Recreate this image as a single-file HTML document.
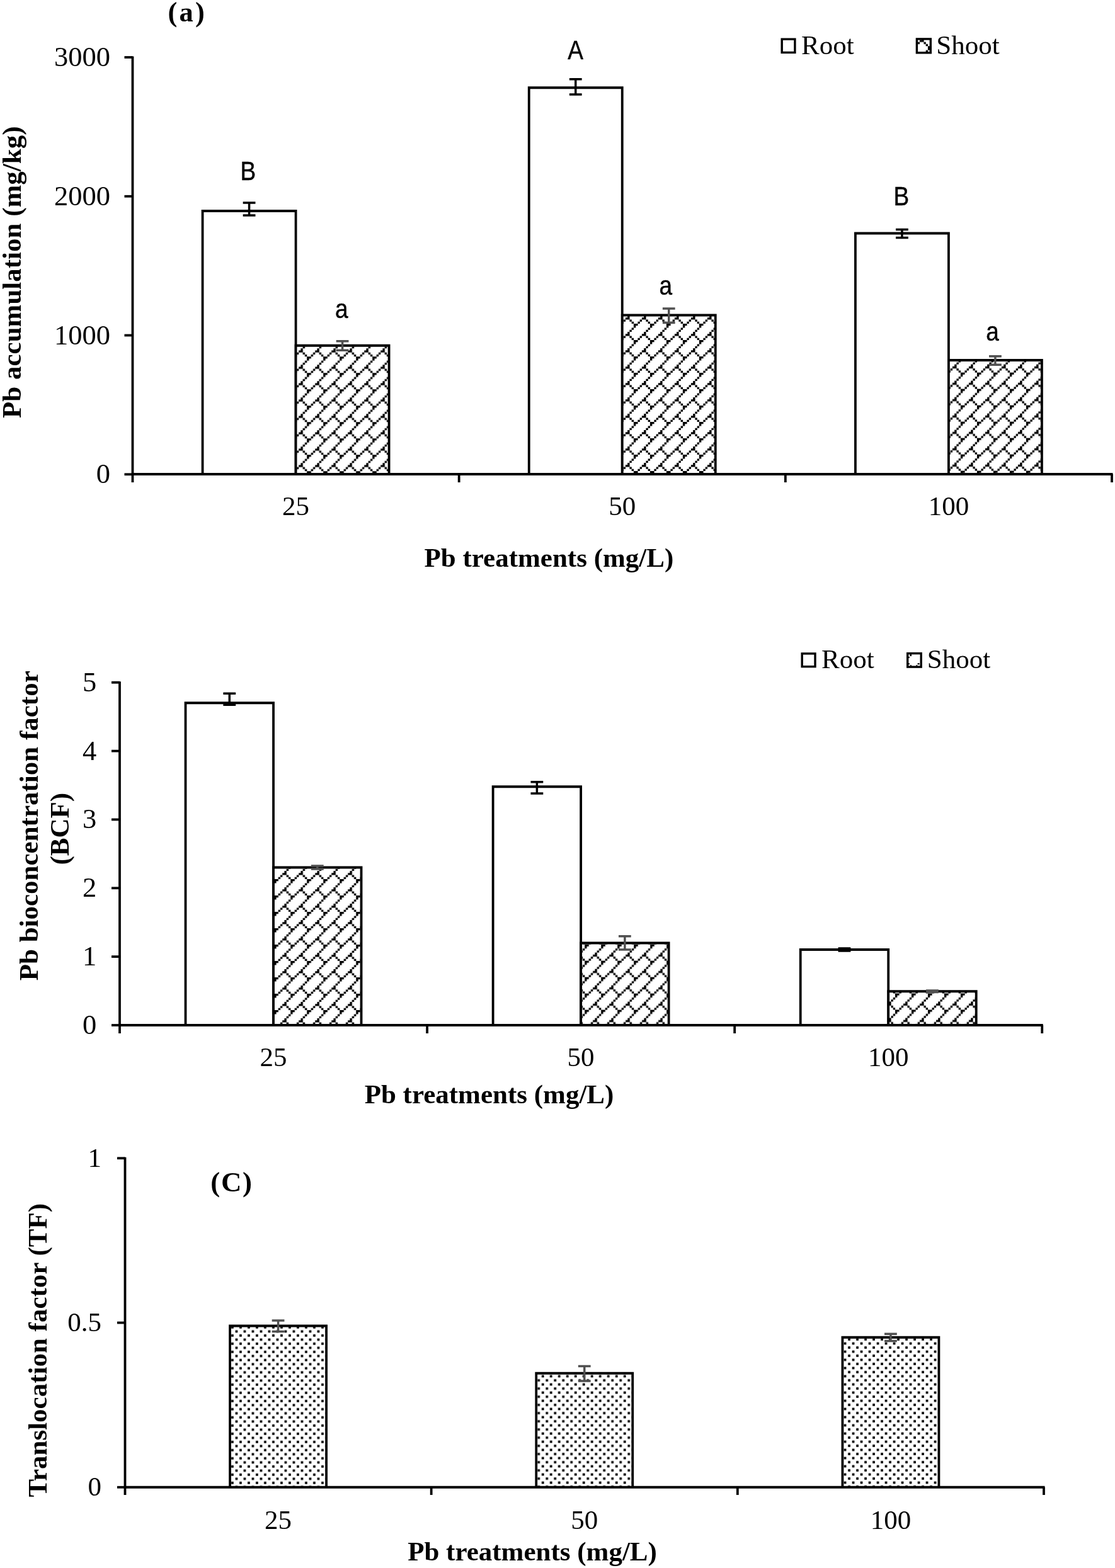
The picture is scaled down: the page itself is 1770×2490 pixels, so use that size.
<!DOCTYPE html>
<html><head><meta charset="utf-8"><title>Pb accumulation, BCF and TF</title>
<style>html,body{margin:0;padding:0;background:#fff;width:1770px;height:2490px;overflow:hidden}svg{display:block}</style>
</head><body>
<svg width="1770" height="2490" viewBox="0 0 1770 2490">
<defs><pattern id="p1" patternUnits="userSpaceOnUse" x="474.25" y="579.24" width="26.000" height="26.000"><rect width="26.000" height="26.000" fill="#fff"/><path d="M3.17,-0.08h3.41v3.41h-3.41zM3.17,25.92h3.41v3.41h-3.41zM-0.08,3.17h3.41v3.41h-3.41zM25.92,3.17h3.41v3.41h-3.41zM3.17,3.17h3.41v3.41h-3.41zM6.42,6.42h3.41v3.41h-3.41zM-3.33,6.42h3.41v3.41h-3.41zM22.67,6.42h3.41v3.41h-3.41zM9.67,9.67h3.41v3.41h-3.41zM19.42,9.67h3.41v3.41h-3.41zM12.92,12.92h3.41v3.41h-3.41zM16.17,12.92h3.41v3.41h-3.41zM12.92,16.17h3.41v3.41h-3.41zM9.67,19.42h3.41v3.41h-3.41zM6.42,-3.33h3.41v3.41h-3.41zM6.42,22.67h3.41v3.41h-3.41z"/></pattern><pattern id="p2" patternUnits="userSpaceOnUse" x="992.96" y="527.00" width="26.000" height="26.000"><rect width="26.000" height="26.000" fill="#fff"/><path d="M3.17,-0.08h3.41v3.41h-3.41zM3.17,25.92h3.41v3.41h-3.41zM-0.08,3.17h3.41v3.41h-3.41zM25.92,3.17h3.41v3.41h-3.41zM3.17,3.17h3.41v3.41h-3.41zM6.42,6.42h3.41v3.41h-3.41zM-3.33,6.42h3.41v3.41h-3.41zM22.67,6.42h3.41v3.41h-3.41zM9.67,9.67h3.41v3.41h-3.41zM19.42,9.67h3.41v3.41h-3.41zM12.92,12.92h3.41v3.41h-3.41zM16.17,12.92h3.41v3.41h-3.41zM12.92,16.17h3.41v3.41h-3.41zM9.67,19.42h3.41v3.41h-3.41zM6.42,-3.33h3.41v3.41h-3.41zM6.42,22.67h3.41v3.41h-3.41z"/></pattern><pattern id="p3" patternUnits="userSpaceOnUse" x="1512.00" y="682.60" width="26.000" height="26.000"><rect width="26.000" height="26.000" fill="#fff"/><path d="M3.17,-0.08h3.41v3.41h-3.41zM3.17,25.92h3.41v3.41h-3.41zM-0.08,3.17h3.41v3.41h-3.41zM25.92,3.17h3.41v3.41h-3.41zM3.17,3.17h3.41v3.41h-3.41zM6.42,6.42h3.41v3.41h-3.41zM-3.33,6.42h3.41v3.41h-3.41zM22.67,6.42h3.41v3.41h-3.41zM9.67,9.67h3.41v3.41h-3.41zM19.42,9.67h3.41v3.41h-3.41zM12.92,12.92h3.41v3.41h-3.41zM16.17,12.92h3.41v3.41h-3.41zM12.92,16.17h3.41v3.41h-3.41zM9.67,19.42h3.41v3.41h-3.41zM6.42,-3.33h3.41v3.41h-3.41zM6.42,22.67h3.41v3.41h-3.41z"/></pattern><pattern id="p4" patternUnits="userSpaceOnUse" x="1460.00" y="60.25" width="26.000" height="26.000"><rect width="26.000" height="26.000" fill="#fff"/><path d="M3.17,-0.08h3.41v3.41h-3.41zM3.17,25.92h3.41v3.41h-3.41zM-0.08,3.17h3.41v3.41h-3.41zM25.92,3.17h3.41v3.41h-3.41zM3.17,3.17h3.41v3.41h-3.41zM6.42,6.42h3.41v3.41h-3.41zM-3.33,6.42h3.41v3.41h-3.41zM22.67,6.42h3.41v3.41h-3.41zM9.67,9.67h3.41v3.41h-3.41zM19.42,9.67h3.41v3.41h-3.41zM12.92,12.92h3.41v3.41h-3.41zM16.17,12.92h3.41v3.41h-3.41zM12.92,16.17h3.41v3.41h-3.41zM9.67,19.42h3.41v3.41h-3.41zM6.42,-3.33h3.41v3.41h-3.41zM6.42,22.67h3.41v3.41h-3.41z"/></pattern><pattern id="p5" patternUnits="userSpaceOnUse" x="448.30" y="1409.05" width="26.000" height="26.000"><rect width="26.000" height="26.000" fill="#fff"/><path d="M3.17,-0.08h3.41v3.41h-3.41zM3.17,25.92h3.41v3.41h-3.41zM-0.08,3.17h3.41v3.41h-3.41zM25.92,3.17h3.41v3.41h-3.41zM3.17,3.17h3.41v3.41h-3.41zM6.42,6.42h3.41v3.41h-3.41zM-3.33,6.42h3.41v3.41h-3.41zM22.67,6.42h3.41v3.41h-3.41zM9.67,9.67h3.41v3.41h-3.41zM19.42,9.67h3.41v3.41h-3.41zM12.92,12.92h3.41v3.41h-3.41zM16.17,12.92h3.41v3.41h-3.41zM12.92,16.17h3.41v3.41h-3.41zM9.67,19.42h3.41v3.41h-3.41zM6.42,-3.33h3.41v3.41h-3.41zM6.42,22.67h3.41v3.41h-3.41z"/></pattern><pattern id="p6" patternUnits="userSpaceOnUse" x="941.24" y="1538.66" width="26.000" height="26.000"><rect width="26.000" height="26.000" fill="#fff"/><path d="M3.17,-0.08h3.41v3.41h-3.41zM3.17,25.92h3.41v3.41h-3.41zM-0.08,3.17h3.41v3.41h-3.41zM25.92,3.17h3.41v3.41h-3.41zM3.17,3.17h3.41v3.41h-3.41zM6.42,6.42h3.41v3.41h-3.41zM-3.33,6.42h3.41v3.41h-3.41zM22.67,6.42h3.41v3.41h-3.41zM9.67,9.67h3.41v3.41h-3.41zM19.42,9.67h3.41v3.41h-3.41zM12.92,12.92h3.41v3.41h-3.41zM16.17,12.92h3.41v3.41h-3.41zM12.92,16.17h3.41v3.41h-3.41zM9.67,19.42h3.41v3.41h-3.41zM6.42,-3.33h3.41v3.41h-3.41zM6.42,22.67h3.41v3.41h-3.41z"/></pattern><pattern id="p7" patternUnits="userSpaceOnUse" x="1434.04" y="1590.50" width="26.000" height="26.000"><rect width="26.000" height="26.000" fill="#fff"/><path d="M3.17,-0.08h3.41v3.41h-3.41zM3.17,25.92h3.41v3.41h-3.41zM-0.08,3.17h3.41v3.41h-3.41zM25.92,3.17h3.41v3.41h-3.41zM3.17,3.17h3.41v3.41h-3.41zM6.42,6.42h3.41v3.41h-3.41zM-3.33,6.42h3.41v3.41h-3.41zM22.67,6.42h3.41v3.41h-3.41zM9.67,9.67h3.41v3.41h-3.41zM19.42,9.67h3.41v3.41h-3.41zM12.92,12.92h3.41v3.41h-3.41zM16.17,12.92h3.41v3.41h-3.41zM12.92,16.17h3.41v3.41h-3.41zM9.67,19.42h3.41v3.41h-3.41zM6.42,-3.33h3.41v3.41h-3.41zM6.42,22.67h3.41v3.41h-3.41z"/></pattern><pattern id="p8" patternUnits="userSpaceOnUse" x="373.80" y="2112.70" width="26.000" height="26.000"><rect width="26.000" height="26.000" fill="#fff"/><path d="M-0.25,-0.25h3.75v3.75h-3.75zM-0.25,25.75h3.75v3.75h-3.75zM25.75,-0.25h3.75v3.75h-3.75zM25.75,25.75h3.75v3.75h-3.75zM12.75,-0.25h3.75v3.75h-3.75zM12.75,25.75h3.75v3.75h-3.75zM6.25,6.25h3.75v3.75h-3.75zM19.25,6.25h3.75v3.75h-3.75zM-0.25,12.75h3.75v3.75h-3.75zM25.75,12.75h3.75v3.75h-3.75zM12.75,12.75h3.75v3.75h-3.75zM6.25,19.25h3.75v3.75h-3.75zM19.25,19.25h3.75v3.75h-3.75z"/></pattern><pattern id="p9" patternUnits="userSpaceOnUse" x="866.60" y="2190.40" width="26.000" height="26.000"><rect width="26.000" height="26.000" fill="#fff"/><path d="M-0.25,-0.25h3.75v3.75h-3.75zM-0.25,25.75h3.75v3.75h-3.75zM25.75,-0.25h3.75v3.75h-3.75zM25.75,25.75h3.75v3.75h-3.75zM12.75,-0.25h3.75v3.75h-3.75zM12.75,25.75h3.75v3.75h-3.75zM6.25,6.25h3.75v3.75h-3.75zM19.25,6.25h3.75v3.75h-3.75zM-0.25,12.75h3.75v3.75h-3.75zM25.75,12.75h3.75v3.75h-3.75zM12.75,12.75h3.75v3.75h-3.75zM6.25,19.25h3.75v3.75h-3.75zM19.25,19.25h3.75v3.75h-3.75z"/></pattern><pattern id="p10" patternUnits="userSpaceOnUse" x="1352.90" y="2131.80" width="26.000" height="26.000"><rect width="26.000" height="26.000" fill="#fff"/><path d="M-0.25,-0.25h3.75v3.75h-3.75zM-0.25,25.75h3.75v3.75h-3.75zM25.75,-0.25h3.75v3.75h-3.75zM25.75,25.75h3.75v3.75h-3.75zM12.75,-0.25h3.75v3.75h-3.75zM12.75,25.75h3.75v3.75h-3.75zM6.25,6.25h3.75v3.75h-3.75zM19.25,6.25h3.75v3.75h-3.75zM-0.25,12.75h3.75v3.75h-3.75zM25.75,12.75h3.75v3.75h-3.75zM12.75,12.75h3.75v3.75h-3.75zM6.25,19.25h3.75v3.75h-3.75zM19.25,19.25h3.75v3.75h-3.75z"/></pattern></defs>
<rect width="1770" height="2490" fill="#fff"/>
<text x="175.00" y="105.00" font-family="'Liberation Serif', 'Times New Roman', serif" font-size="44.5" font-weight="normal" text-anchor="end">3000</text>
<text x="175.00" y="325.75" font-family="'Liberation Serif', 'Times New Roman', serif" font-size="44.5" font-weight="normal" text-anchor="end">2000</text>
<text x="175.00" y="546.50" font-family="'Liberation Serif', 'Times New Roman', serif" font-size="44.5" font-weight="normal" text-anchor="end">1000</text>
<text x="175.00" y="767.25" font-family="'Liberation Serif', 'Times New Roman', serif" font-size="44.5" font-weight="normal" text-anchor="end">0</text>
<path d="M321.58,753.00V335.00H469.58V753.00" fill="#fff" stroke="#000" stroke-width="3.8" stroke-linejoin="miter"/>
<path d="M469.58,753.00V548.75H617.58V753.00" fill="url(#p1)" stroke="#000" stroke-width="3.8" stroke-linejoin="miter"/>
<path d="M385.68,322.00H405.48M395.58,322.00V342.00M385.68,342.00H405.48" stroke="#000" stroke-width="3.5" fill="none"/>
<path d="M533.68,541.75H553.48M543.58,541.75V556.25M533.68,556.25H553.48" stroke="#505050" stroke-width="3.5" fill="none"/>
<text x="0" y="0" transform="translate(393.70,285.60) scale(0.88,1)" font-family="'Liberation Sans', Arial, sans-serif" font-size="42" text-anchor="middle" stroke="#000" stroke-width="0.5">B</text>
<text x="0" y="0" transform="translate(542.25,505.00) scale(0.88,1)" font-family="'Liberation Sans', Arial, sans-serif" font-size="42" text-anchor="middle" stroke="#000" stroke-width="0.5">a</text>
<path d="M839.75,753.00V139.25H987.75V753.00" fill="#fff" stroke="#000" stroke-width="3.8" stroke-linejoin="miter"/>
<path d="M987.75,753.00V500.50H1135.75V753.00" fill="url(#p2)" stroke="#000" stroke-width="3.8" stroke-linejoin="miter"/>
<path d="M903.85,125.75H923.65M913.75,125.75V150.00M903.85,150.00H923.65" stroke="#000" stroke-width="3.5" fill="none"/>
<path d="M1051.85,490.00H1071.65M1061.75,490.00V512.40M1051.85,512.40H1071.65" stroke="#505050" stroke-width="3.5" fill="none"/>
<text x="0" y="0" transform="translate(913.45,93.60) scale(0.88,1)" font-family="'Liberation Sans', Arial, sans-serif" font-size="42" text-anchor="middle" stroke="#000" stroke-width="0.5">A</text>
<text x="0" y="0" transform="translate(1056.90,467.80) scale(0.88,1)" font-family="'Liberation Sans', Arial, sans-serif" font-size="42" text-anchor="middle" stroke="#000" stroke-width="0.5">a</text>
<path d="M1357.92,753.00V370.50H1505.92V753.00" fill="#fff" stroke="#000" stroke-width="3.8" stroke-linejoin="miter"/>
<path d="M1505.92,753.00V572.00H1653.92V753.00" fill="url(#p3)" stroke="#000" stroke-width="3.8" stroke-linejoin="miter"/>
<path d="M1422.02,364.50H1441.82M1431.92,364.50V377.50M1422.02,377.50H1441.82" stroke="#000" stroke-width="3.5" fill="none"/>
<path d="M1570.02,565.80H1589.82M1579.92,565.80V579.20M1570.02,579.20H1589.82" stroke="#505050" stroke-width="3.5" fill="none"/>
<text x="0" y="0" transform="translate(1430.90,326.30) scale(0.88,1)" font-family="'Liberation Sans', Arial, sans-serif" font-size="42" text-anchor="middle" stroke="#000" stroke-width="0.5">B</text>
<text x="0" y="0" transform="translate(1575.50,540.80) scale(0.88,1)" font-family="'Liberation Sans', Arial, sans-serif" font-size="42" text-anchor="middle" stroke="#000" stroke-width="0.5">a</text>
<text x="469.58" y="818.00" font-family="'Liberation Serif', 'Times New Roman', serif" font-size="43" font-weight="normal" text-anchor="middle">25</text>
<text x="987.75" y="818.00" font-family="'Liberation Serif', 'Times New Roman', serif" font-size="43" font-weight="normal" text-anchor="middle">50</text>
<text x="1505.92" y="818.00" font-family="'Liberation Serif', 'Times New Roman', serif" font-size="43" font-weight="normal" text-anchor="middle">100</text>
<text x="871.40" y="900.40" font-family="'Liberation Serif', 'Times New Roman', serif" font-size="43" font-weight="bold" text-anchor="middle">Pb treatments (mg/L)</text>
<text transform="translate(33.30,432.20) rotate(-90)" font-family="'Liberation Serif', 'Times New Roman', serif" font-size="43" font-weight="bold" text-anchor="middle">Pb accumulation (mg/kg)</text>
<text x="297.30" y="34.00" font-family="'Liberation Serif', 'Times New Roman', serif" font-size="44.5" font-weight="bold" text-anchor="middle" letter-spacing="3.2">(a)</text>
<rect x="1241.2" y="62.2" width="20.7" height="21.2" fill="#fff" stroke="#000" stroke-width="3.4"/>
<text x="1272.00" y="86.25" font-family="'Liberation Serif', 'Times New Roman', serif" font-size="43" font-weight="normal" text-anchor="start">Root</text>
<rect x="1455.4" y="61.9" width="21.9" height="21.9" fill="url(#p4)" stroke="#000" stroke-width="3.4"/>
<text x="1486.30" y="86.25" font-family="'Liberation Serif', 'Times New Roman', serif" font-size="43" font-weight="normal" text-anchor="start">Shoot</text>
<text x="153.30" y="1642.00" font-family="'Liberation Serif', 'Times New Roman', serif" font-size="44.5" font-weight="normal" text-anchor="end">0</text>
<text x="153.30" y="1533.15" font-family="'Liberation Serif', 'Times New Roman', serif" font-size="44.5" font-weight="normal" text-anchor="end">1</text>
<text x="153.30" y="1424.30" font-family="'Liberation Serif', 'Times New Roman', serif" font-size="44.5" font-weight="normal" text-anchor="end">2</text>
<text x="153.30" y="1315.45" font-family="'Liberation Serif', 'Times New Roman', serif" font-size="44.5" font-weight="normal" text-anchor="end">3</text>
<text x="153.30" y="1206.60" font-family="'Liberation Serif', 'Times New Roman', serif" font-size="44.5" font-weight="normal" text-anchor="end">4</text>
<text x="153.30" y="1097.75" font-family="'Liberation Serif', 'Times New Roman', serif" font-size="44.5" font-weight="normal" text-anchor="end">5</text>
<path d="M294.54,1628.00V1116.25H434.04V1628.00" fill="#fff" stroke="#000" stroke-width="3.8" stroke-linejoin="miter"/>
<path d="M434.04,1628.00V1377.50H573.54V1628.00" fill="url(#p5)" stroke="#000" stroke-width="3.8" stroke-linejoin="miter"/>
<path d="M354.39,1101.30H374.19M364.29,1101.30V1119.20M354.39,1119.20H374.19" stroke="#000" stroke-width="3.5" fill="none"/>
<path d="M493.89,1375.00H513.69M503.79,1375.00V1380.00M493.89,1380.00H513.69" stroke="#505050" stroke-width="3.5" fill="none"/>
<path d="M782.62,1628.00V1249.25H922.12V1628.00" fill="#fff" stroke="#000" stroke-width="3.8" stroke-linejoin="miter"/>
<path d="M922.12,1628.00V1497.50H1061.62V1628.00" fill="url(#p6)" stroke="#000" stroke-width="3.8" stroke-linejoin="miter"/>
<path d="M842.48,1241.75H862.27M852.38,1241.75V1260.00M842.48,1260.00H862.27" stroke="#000" stroke-width="3.5" fill="none"/>
<path d="M981.98,1486.75H1001.77M991.88,1486.75V1508.00M981.98,1508.00H1001.77" stroke="#505050" stroke-width="3.5" fill="none"/>
<path d="M1270.71,1628.00V1508.00H1410.21V1628.00" fill="#fff" stroke="#000" stroke-width="3.8" stroke-linejoin="miter"/>
<path d="M1410.21,1628.00V1574.25H1549.71V1628.00" fill="url(#p7)" stroke="#000" stroke-width="3.8" stroke-linejoin="miter"/>
<path d="M1330.56,1506.00H1350.36M1340.46,1506.00V1510.00M1330.56,1510.00H1350.36" stroke="#000" stroke-width="3.5" fill="none"/>
<path d="M1470.06,1573.00H1489.86M1479.96,1573.00V1575.50M1470.06,1575.50H1489.86" stroke="#505050" stroke-width="3.5" fill="none"/>
<text x="434.04" y="1692.50" font-family="'Liberation Serif', 'Times New Roman', serif" font-size="43" font-weight="normal" text-anchor="middle">25</text>
<text x="922.12" y="1692.50" font-family="'Liberation Serif', 'Times New Roman', serif" font-size="43" font-weight="normal" text-anchor="middle">50</text>
<text x="1410.21" y="1692.50" font-family="'Liberation Serif', 'Times New Roman', serif" font-size="43" font-weight="normal" text-anchor="middle">100</text>
<text x="776.50" y="1752.20" font-family="'Liberation Serif', 'Times New Roman', serif" font-size="43" font-weight="bold" text-anchor="middle">Pb treatments (mg/L)</text>
<text transform="translate(60.00,1311.25) rotate(-90)" font-family="'Liberation Serif', 'Times New Roman', serif" font-size="43" font-weight="bold" text-anchor="middle">Pb bioconcentration factor</text>
<text transform="translate(108.75,1316.25) rotate(-90)" font-family="'Liberation Serif', 'Times New Roman', serif" font-size="43" font-weight="bold" text-anchor="middle">(BCF)</text>
<rect x="1273.2" y="1037.9" width="20.8" height="20.7" fill="#fff" stroke="#000" stroke-width="3.4"/>
<text x="1304.00" y="1061.40" font-family="'Liberation Serif', 'Times New Roman', serif" font-size="43" font-weight="normal" text-anchor="start">Root</text>
<rect x="1440.7" y="1037.6" width="21.5" height="21.5" fill="#fff" stroke="#000" stroke-width="3.4"/>
<rect x="1444.4" y="1038.3" width="2.60" height="3.70"/>
<rect x="1441.9" y="1042.8" width="1.90" height="2.20"/>
<rect x="1441.9" y="1053.1" width="1.90" height="2.20"/>
<rect x="1444.8" y="1056.1" width="2.20" height="1.50"/>
<rect x="1454.2" y="1056.1" width="2.20" height="1.50"/>
<rect x="1456.6" y="1053.1" width="3.00" height="2.20"/>
<text x="1471.80" y="1061.40" font-family="'Liberation Serif', 'Times New Roman', serif" font-size="43" font-weight="normal" text-anchor="start">Shoot</text>
<text x="161.00" y="1852.55" font-family="'Liberation Serif', 'Times New Roman', serif" font-size="43" font-weight="normal" text-anchor="end">1</text>
<text x="161.00" y="2113.80" font-family="'Liberation Serif', 'Times New Roman', serif" font-size="43" font-weight="normal" text-anchor="end">0.5</text>
<text x="161.00" y="2375.05" font-family="'Liberation Serif', 'Times New Roman', serif" font-size="43" font-weight="normal" text-anchor="end">0</text>
<path d="M365.08,2361.75V2105.50H518.08V2361.75" fill="url(#p8)" stroke="#000" stroke-width="3.8" stroke-linejoin="miter"/>
<path d="M431.68,2097.00H451.48M441.58,2097.00V2114.50M431.68,2114.50H451.48" stroke="#505050" stroke-width="3.5" fill="none"/>
<path d="M851.25,2361.75V2180.75H1004.25V2361.75" fill="url(#p9)" stroke="#000" stroke-width="3.8" stroke-linejoin="miter"/>
<path d="M917.85,2169.50H937.65M927.75,2169.50V2193.00M917.85,2193.00H937.65" stroke="#505050" stroke-width="3.5" fill="none"/>
<path d="M1337.42,2361.75V2123.75H1490.42V2361.75" fill="url(#p10)" stroke="#000" stroke-width="3.8" stroke-linejoin="miter"/>
<path d="M1404.02,2118.25H1423.82M1413.92,2118.25V2129.50M1404.02,2129.50H1423.82" stroke="#505050" stroke-width="3.5" fill="none"/>
<text x="441.58" y="2427.50" font-family="'Liberation Serif', 'Times New Roman', serif" font-size="43" font-weight="normal" text-anchor="middle">25</text>
<text x="927.75" y="2427.50" font-family="'Liberation Serif', 'Times New Roman', serif" font-size="43" font-weight="normal" text-anchor="middle">50</text>
<text x="1413.92" y="2427.50" font-family="'Liberation Serif', 'Times New Roman', serif" font-size="43" font-weight="normal" text-anchor="middle">100</text>
<text x="845.00" y="2477.60" font-family="'Liberation Serif', 'Times New Roman', serif" font-size="43" font-weight="bold" text-anchor="middle">Pb treatments (mg/L)</text>
<text transform="translate(73.80,2144.30) rotate(-90)" font-family="'Liberation Serif', 'Times New Roman', serif" font-size="43" font-weight="bold" text-anchor="middle">Translocation factor (TF)</text>
<text x="368.00" y="1891.80" font-family="'Liberation Serif', 'Times New Roman', serif" font-size="45" font-weight="bold" text-anchor="middle" letter-spacing="1.7">(C)</text>
<line x1="210.50" y1="89.50" x2="210.50" y2="766.00" stroke="#000" stroke-width="3.8"/>
<line x1="197.50" y1="91.00" x2="210.50" y2="91.00" stroke="#000" stroke-width="3.8"/>
<line x1="197.50" y1="311.75" x2="210.50" y2="311.75" stroke="#000" stroke-width="3.8"/>
<line x1="197.50" y1="532.50" x2="210.50" y2="532.50" stroke="#000" stroke-width="3.8"/>
<line x1="197.50" y1="753.25" x2="210.50" y2="753.25" stroke="#000" stroke-width="3.8"/>
<line x1="209.00" y1="753.00" x2="1766.50" y2="753.00" stroke="#000" stroke-width="3.8"/>
<line x1="728.67" y1="753.00" x2="728.67" y2="766.00" stroke="#000" stroke-width="3.8"/>
<line x1="1246.83" y1="753.00" x2="1246.83" y2="766.00" stroke="#000" stroke-width="3.8"/>
<line x1="1765.00" y1="753.00" x2="1765.00" y2="766.00" stroke="#000" stroke-width="3.8"/>
<line x1="190.00" y1="1082.25" x2="190.00" y2="1641.00" stroke="#000" stroke-width="3.8"/>
<line x1="177.00" y1="1628.00" x2="190.00" y2="1628.00" stroke="#000" stroke-width="3.8"/>
<line x1="177.00" y1="1519.15" x2="190.00" y2="1519.15" stroke="#000" stroke-width="3.8"/>
<line x1="177.00" y1="1410.30" x2="190.00" y2="1410.30" stroke="#000" stroke-width="3.8"/>
<line x1="177.00" y1="1301.45" x2="190.00" y2="1301.45" stroke="#000" stroke-width="3.8"/>
<line x1="177.00" y1="1192.60" x2="190.00" y2="1192.60" stroke="#000" stroke-width="3.8"/>
<line x1="177.00" y1="1083.75" x2="190.00" y2="1083.75" stroke="#000" stroke-width="3.8"/>
<line x1="188.50" y1="1628.00" x2="1655.75" y2="1628.00" stroke="#000" stroke-width="3.8"/>
<line x1="678.08" y1="1628.00" x2="678.08" y2="1641.00" stroke="#000" stroke-width="3.8"/>
<line x1="1166.17" y1="1628.00" x2="1166.17" y2="1641.00" stroke="#000" stroke-width="3.8"/>
<line x1="1654.25" y1="1628.00" x2="1654.25" y2="1641.00" stroke="#000" stroke-width="3.8"/>
<line x1="198.50" y1="1837.75" x2="198.50" y2="2374.00" stroke="#000" stroke-width="3.8"/>
<line x1="186.00" y1="1839.25" x2="198.50" y2="1839.25" stroke="#000" stroke-width="3.8"/>
<line x1="186.00" y1="2100.50" x2="198.50" y2="2100.50" stroke="#000" stroke-width="3.8"/>
<line x1="186.00" y1="2361.75" x2="198.50" y2="2361.75" stroke="#000" stroke-width="3.8"/>
<line x1="197.00" y1="2361.75" x2="1658.50" y2="2361.75" stroke="#000" stroke-width="3.8"/>
<line x1="684.67" y1="2361.75" x2="684.67" y2="2374.00" stroke="#000" stroke-width="3.8"/>
<line x1="1170.83" y1="2361.75" x2="1170.83" y2="2374.00" stroke="#000" stroke-width="3.8"/>
<line x1="1657.00" y1="2361.75" x2="1657.00" y2="2374.00" stroke="#000" stroke-width="3.8"/>
</svg></body></html>
